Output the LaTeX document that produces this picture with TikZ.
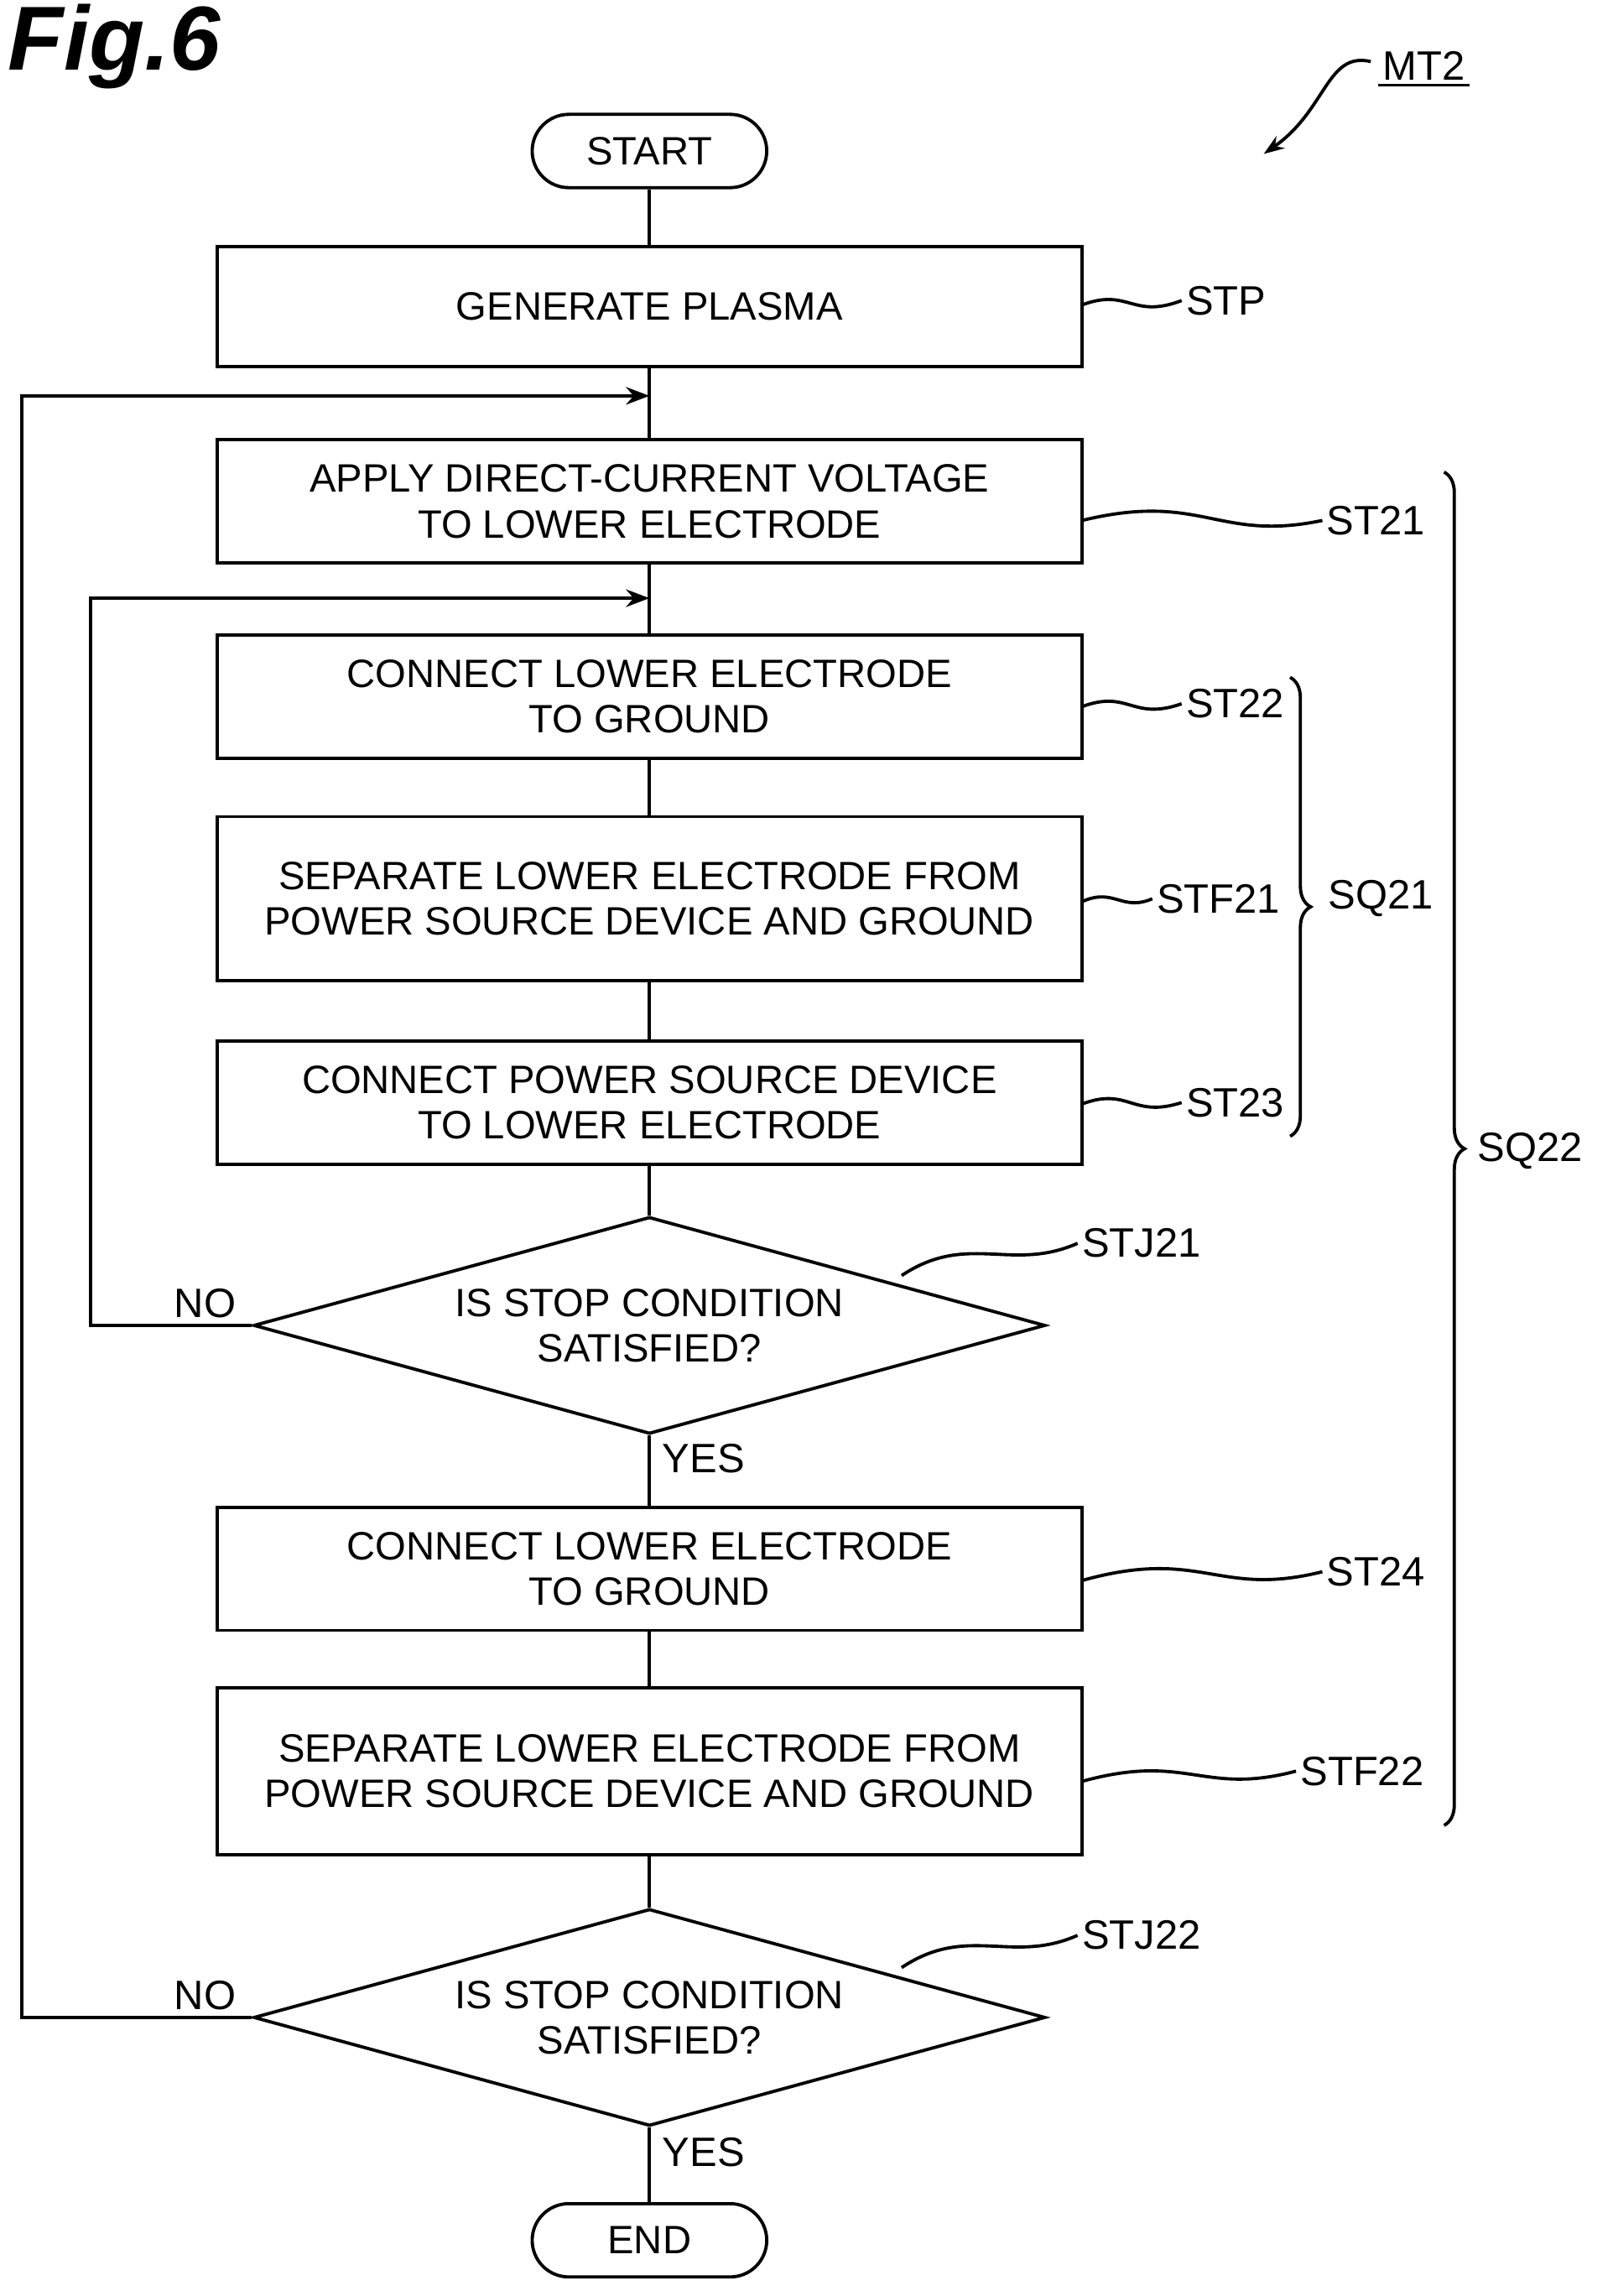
\documentclass[tikz,border=0pt]{standalone}
\usepackage{fontspec}
\setmainfont{Liberation Sans}
\usetikzlibrary{shapes.geometric,arrows.meta,decorations.pathreplacing}
\begin{document}
\begin{tikzpicture}[x=0.5pt,y=-0.5pt,line width=1.1pt,
  box/.style={draw,minimum width=295pt,align=center,font=\fontsize{13.5}{15.5}\selectfont,inner sep=0pt},
  pill/.style={draw,rounded corners=12.5pt,minimum width=80pt,minimum height=25pt,font=\fontsize{13.5}{15}\selectfont},
  dia/.style={draw,diamond,aspect=3.65,minimum width=270pt,minimum height=74pt,inner sep=0pt,align=center,font=\fontsize{13.5}{15.5}\selectfont},
  lab/.style={font=\fontsize{14}{16}\selectfont,inner sep=1pt},
  arr/.style={-{Stealth[length=8pt,width=6pt]}}]
\useasboundingbox (0,0) rectangle (1100,1566);
\node[font=\fontsize{31}{33}\selectfont\bfseries\itshape] (fig) at (78,32) {Fig.6};
\node[pill] (start) at (443,103) {START};
\node[box,minimum height=41pt] (stp) at (443,209) {GENERATE PLASMA};
\node[box,minimum height=42pt] (st21) at (443,342) {APPLY DIRECT-CURRENT VOLTAGE\\TO LOWER ELECTRODE};
\node[box,minimum height=42pt] (st22) at (443,475) {CONNECT LOWER ELECTRODE\\TO GROUND};
\node[box,minimum height=56pt] (stf21) at (443,613) {SEPARATE LOWER ELECTRODE FROM\\POWER SOURCE DEVICE AND GROUND};
\node[box,minimum height=42pt] (st23) at (443,752) {CONNECT POWER SOURCE DEVICE\\TO LOWER ELECTRODE};
\node[dia] (j1) at (443,904) {IS STOP CONDITION\\SATISFIED?};
\node[box,minimum height=42pt] (st24) at (443,1070) {CONNECT LOWER ELECTRODE\\TO GROUND};
\node[box,minimum height=57pt] (stf22) at (443,1208) {SEPARATE LOWER ELECTRODE FROM\\POWER SOURCE DEVICE AND GROUND};
\node[dia] (j2) at (443,1376) {IS STOP CONDITION\\SATISFIED?};
\node[pill] (end) at (443,1528) {END};
\coordinate (m1) at (443,270);
\coordinate (m2) at (443,408);
\draw (start) -- (stp);
\draw (stp) -- (st21);
\draw (st21) -- (st22);
\draw (st22) -- (stf21);
\draw (stf21) -- (st23);
\draw (st23) -- (j1);
\draw (j1) -- (st24);
\draw (st24) -- (stf22);
\draw (stf22) -- (j2);
\draw (j2) -- (end);
\draw[arr] (j1.west) -- (62,904) -- (62,408) -- (m2);
\draw[arr] (j2.west) -- (15,1376) -- (15,270) -- (m1);
\node[lab] (no1) at (140,889) {NO};
\node[lab] (no2) at (140,1361) {NO};
\node[lab] (y1) at (480,995) {YES};
\node[lab] (y2) at (480,1468) {YES};
\node[lab,anchor=west] (lstp) at (806,205) {STP};
\node[lab,anchor=west] (l21) at (902,355) {ST21};
\node[lab,anchor=west] (l22) at (806,480) {ST22};
\node[lab,anchor=west] (lf21) at (786,613) {STF21};
\node[lab,anchor=west] (lq21) at (903,613) {SQ21};
\node[lab,anchor=west] (l23) at (806,752) {ST23};
\node[lab,anchor=west] (lj21) at (735,848) {STJ21};
\node[lab,anchor=west] (l24) at (902,1072) {ST24};
\node[lab,anchor=west] (lf22) at (884,1208) {STF22};
\node[lab,anchor=west] (lj22) at (735,1320) {STJ22};
\node[lab,anchor=west] (lq22) at (1005,785) {SQ22};
\node[lab,anchor=west] (mt2) at (940,45) {MT2};
\draw[line width=0.8pt] (mt2.south west) -- (mt2.south east);
\draw (738,208) .. controls (770,196) and (772,218) .. (lstp.west);
\draw (738,355) .. controls (820,335) and (830,370) .. (l21.west);
\draw (738,482) .. controls (770,470) and (772,492) .. (l22.west);
\draw (738,615) .. controls (760,605) and (765,622) .. (lf21.west);
\draw (738,753) .. controls (770,741) and (772,763) .. (l23.west);
\draw (615,870) .. controls (660,840) and (690,868) .. (lj21.west);
\draw (738,1078) .. controls (820,1055) and (830,1090) .. (l24.west);
\draw (738,1215) .. controls (810,1195) and (820,1225) .. (lf22.west);
\draw (615,1342) .. controls (660,1312) and (690,1340) .. (lj22.west);
\draw[-{Stealth[length=7pt,width=5pt]}] (935,42) .. controls (905,35) and (905,75) .. (862,105);
\draw[decorate,decoration={brace,amplitude=7pt}] (880,462) -- (880,775);
\draw[decorate,decoration={brace,amplitude=7pt}] (985,322) -- (985,1245);
\end{tikzpicture}
\end{document}
